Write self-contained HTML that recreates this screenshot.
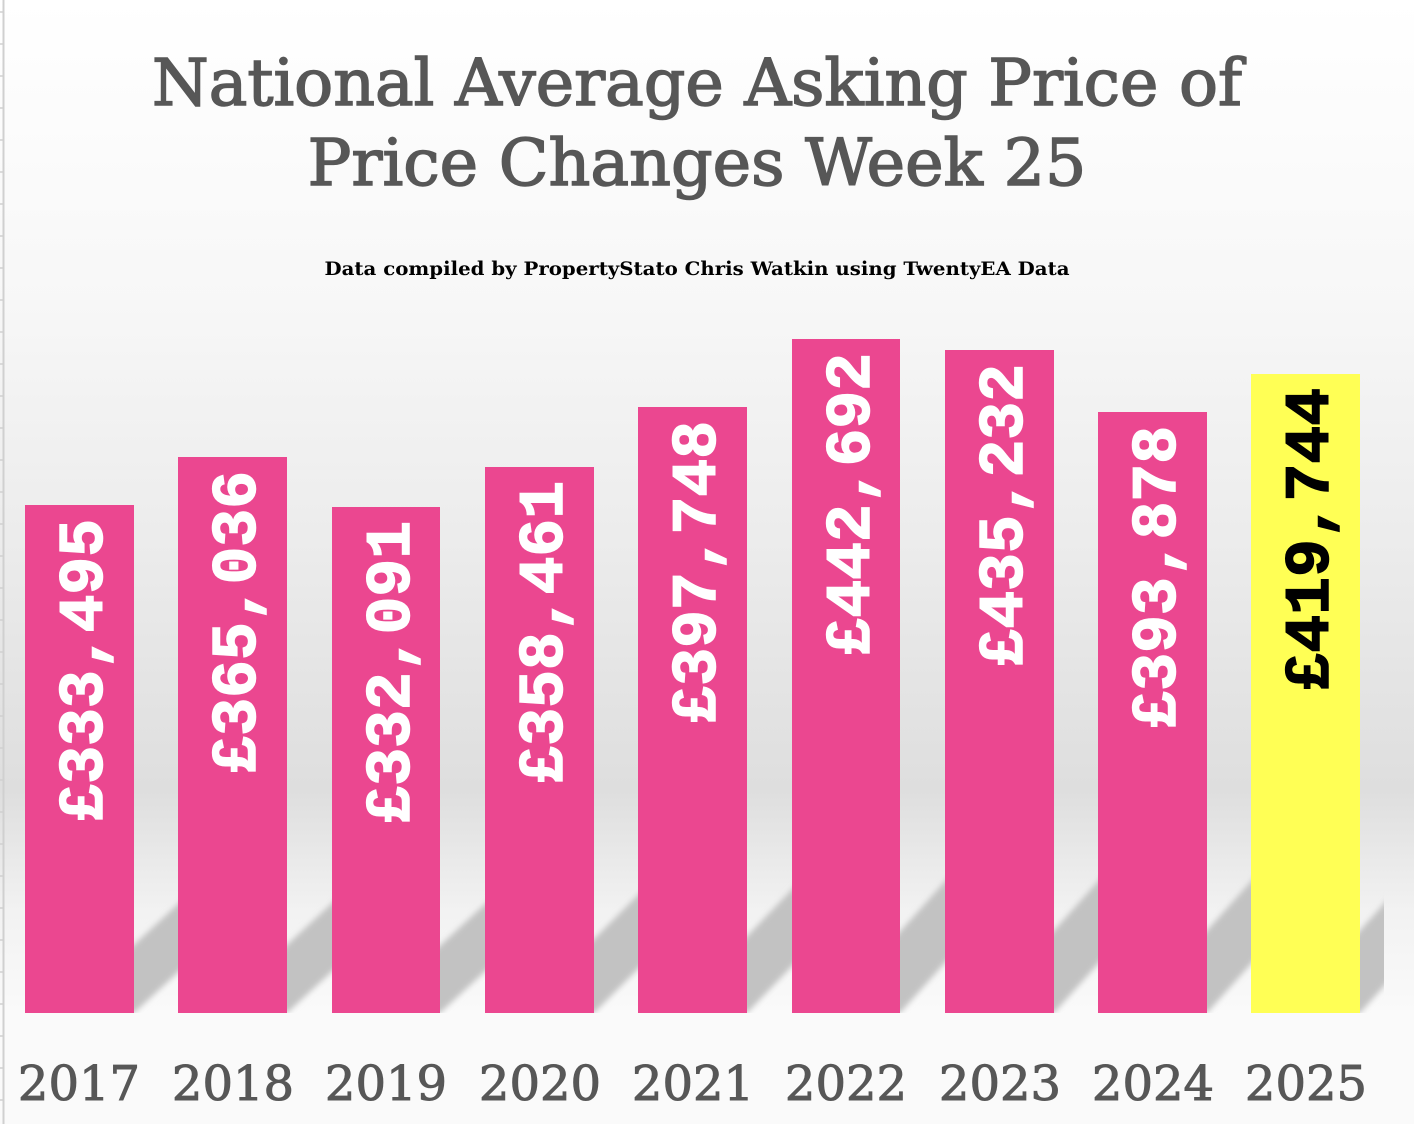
<!DOCTYPE html>
<html><head><meta charset="utf-8"><style>
body{margin:0;width:1414px;height:1124px;overflow:hidden;background:#fafafa;}
#c{position:absolute;left:0;top:0;width:1414px;height:1124px;}
</style></head><body>
<svg id="c" width="1414" height="1124" xmlns="http://www.w3.org/2000/svg">
<defs>
<linearGradient id="bg" x1="0" y1="0" x2="0" y2="1">
<stop offset="0" stop-color="#ffffff"/>
<stop offset="0.3" stop-color="#f7f7f7"/>
<stop offset="0.55" stop-color="#ebebeb"/>
<stop offset="0.78" stop-color="#dedede"/>
<stop offset="0.9" stop-color="#f2f2f2"/>
<stop offset="1" stop-color="#fafafa"/>
</linearGradient>
<filter id="bl"><feGaussianBlur stdDeviation="3"/></filter>
<clipPath id="cl"><rect x="0" y="0" width="1384" height="1013"/></clipPath>
</defs>
<rect width="1414" height="1013" fill="url(#bg)"/>
<rect y="1013" width="1414" height="111" fill="#fafafa"/>
<line x1="3.5" y1="0" x2="3.5" y2="1124" stroke="#d0d0d0" stroke-width="2"/>
<g stroke="#d0d0d0" stroke-width="1.5">
<line x1="0" y1="12" x2="4" y2="12"/><line x1="0" y1="44" x2="4" y2="44"/><line x1="0" y1="76" x2="4" y2="76"/><line x1="0" y1="108" x2="4" y2="108"/><line x1="0" y1="140" x2="4" y2="140"/><line x1="0" y1="172" x2="4" y2="172"/><line x1="0" y1="204" x2="4" y2="204"/><line x1="0" y1="236" x2="4" y2="236"/><line x1="0" y1="268" x2="4" y2="268"/><line x1="0" y1="300" x2="4" y2="300"/><line x1="0" y1="332" x2="4" y2="332"/><line x1="0" y1="364" x2="4" y2="364"/><line x1="0" y1="396" x2="4" y2="396"/><line x1="0" y1="428" x2="4" y2="428"/><line x1="0" y1="460" x2="4" y2="460"/><line x1="0" y1="492" x2="4" y2="492"/><line x1="0" y1="524" x2="4" y2="524"/><line x1="0" y1="556" x2="4" y2="556"/><line x1="0" y1="588" x2="4" y2="588"/><line x1="0" y1="620" x2="4" y2="620"/><line x1="0" y1="652" x2="4" y2="652"/><line x1="0" y1="684" x2="4" y2="684"/><line x1="0" y1="716" x2="4" y2="716"/><line x1="0" y1="748" x2="4" y2="748"/><line x1="0" y1="780" x2="4" y2="780"/><line x1="0" y1="812" x2="4" y2="812"/><line x1="0" y1="844" x2="4" y2="844"/><line x1="0" y1="876" x2="4" y2="876"/><line x1="0" y1="908" x2="4" y2="908"/><line x1="0" y1="940" x2="4" y2="940"/><line x1="0" y1="972" x2="4" y2="972"/><line x1="0" y1="1004" x2="4" y2="1004"/><line x1="0" y1="1036" x2="4" y2="1036"/><line x1="0" y1="1068" x2="4" y2="1068"/><line x1="0" y1="1100" x2="4" y2="1100"/>
</g>
<g clip-path="url(#cl)" fill="#c2c2c2" filter="url(#bl)">
<polygon points="60,1013 134,1013 264,893 190,893"/>
<polygon points="213,1013 287,1013 417,893 343,893"/>
<polygon points="367,1013 440,1013 570,893 497,893"/>
<polygon points="520,1013 594,1013 724,883 650,883"/>
<polygon points="673,1013 747,1013 877,878 803,878"/>
<polygon points="827,1013 900,1013 1030,868 957,868"/>
<polygon points="980,1013 1054,1013 1184,868 1110,868"/>
<polygon points="1133,1013 1207,1013 1337,868 1263,868"/>
<polygon points="1286,1013 1360,1013 1490,868 1416,868"/>
</g>
<g fill="#eb4790">
<rect x="25" y="505" width="109" height="508"/>
<rect x="178" y="457" width="109" height="556"/>
<rect x="332" y="507" width="108" height="506"/>
<rect x="485" y="467" width="109" height="546"/>
<rect x="638" y="407" width="109" height="606"/>
<rect x="792" y="339" width="108" height="674"/>
<rect x="945" y="350" width="109" height="663"/>
<rect x="1098" y="412" width="109" height="601"/>
</g>
<rect x="1251" y="374" width="109" height="639" fill="#ffff55"/>
<g font-family="Liberation Mono, monospace" font-weight="bold" font-size="63" fill="#ffffff" stroke="#ffffff" stroke-width="1.5" text-anchor="end">
<text transform="translate(102,519) rotate(-90)">£333,495</text>
<text transform="translate(255,471) rotate(-90)">£365,036</text>
<text transform="translate(409,521) rotate(-90)">£332,091</text>
<text transform="translate(562,481) rotate(-90)">£358,461</text>
<text transform="translate(715,421) rotate(-90)">£397,748</text>
<text transform="translate(869,353) rotate(-90)">£442,692</text>
<text transform="translate(1022,364) rotate(-90)">£435,232</text>
<text transform="translate(1175,426) rotate(-90)">£393,878</text>
<text transform="translate(1328,388) rotate(-90)" fill="#000" stroke="#000">£419,744</text>
</g>
<g font-family="DejaVu Serif, Liberation Serif, serif" fill="#575757" text-anchor="middle">
<g stroke="#575757" stroke-width="1.5">
<text x="697" y="105" font-size="65" textLength="1090" lengthAdjust="spacingAndGlyphs">National Average Asking Price of</text>
<text x="697" y="185" font-size="65">Price Changes Week 25</text>
</g>
<text x="697" y="275" font-size="19" font-weight="bold" fill="#000" textLength="745" lengthAdjust="spacingAndGlyphs">Data compiled by PropertyStato Chris Watkin using TwentyEA Data</text>
<g font-size="48" stroke="#575757" stroke-width="1">
<text x="79" y="1100">2017</text><text x="233" y="1100">2018</text><text x="386" y="1100">2019</text><text x="540" y="1100">2020</text><text x="693" y="1100">2021</text><text x="846" y="1100">2022</text><text x="1000" y="1100">2023</text><text x="1153" y="1100">2024</text><text x="1306" y="1100">2025</text>
</g>
</g>
</svg>
</body></html>
